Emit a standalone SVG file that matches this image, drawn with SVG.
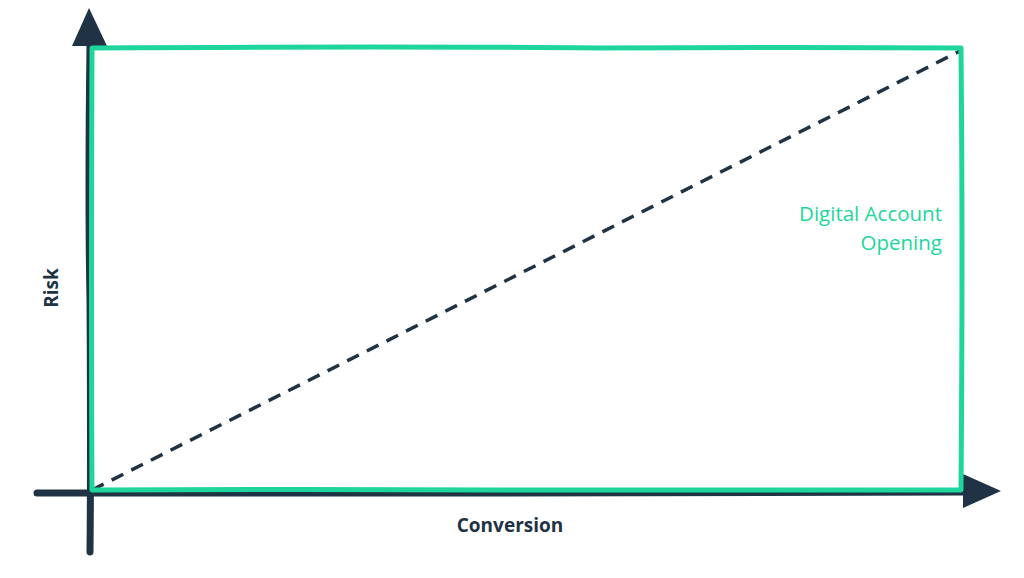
<svg xmlns="http://www.w3.org/2000/svg" width="1024" height="578" viewBox="0 0 1024 578">
<style>
.axis{stroke:#1f3344;stroke-width:7;stroke-linecap:round;fill:none}
.head{fill:#1f3344}
.box{stroke:#1ed69b;stroke-width:5;fill:none;stroke-linejoin:round}
.diag{stroke:#1f3344;stroke-width:3.5;stroke-dasharray:13 9;fill:none}
.lbl{font-family:"Open Sans","Liberation Sans",sans-serif;font-weight:bold;font-size:19px;fill:#1f3344}
.grn{font-family:"Open Sans","Liberation Sans",sans-serif;font-size:20.5px;fill:#1ed69b}
</style>
<rect width="1024" height="578" fill="#ffffff"/>
<g id="connectors">
<line class="diag" x1="92" y1="490" x2="960" y2="51"/>
</g>
<g id="y-axis">
<path class="axis" d="M90 44 Q88 200 90 300 Q91 450 90 552"/>
<polygon class="head" points="89,8 107,46 72,46"/>
</g>
<g id="x-axis">
<path class="axis" d="M37 493 Q300 494 500 493 Q750 492 965 492"/>
<polygon class="head" points="1001,491 963,474 963,508"/>
</g>
<g id="box">
<path class="box" d="M92 48 Q400 46 600 48 Q800 47 961 48 Q963 250 961 490 Q700 489 500 490 Q300 489 92 490 Q91 300 92 48 Z"/>
</g>
<g id="label-dao">
<text class="grn" x="942" y="221" text-anchor="end">Digital Account</text>
<text class="grn" x="942" y="250" text-anchor="end">Opening</text>
</g>
<g id="label-risk">
<text class="lbl" x="0" y="0" text-anchor="middle" transform="translate(58,288) rotate(-90)">Risk</text>
</g>
<g id="label-conversion">
<text class="lbl" x="510" y="532" text-anchor="middle">Conversion</text>
</g>
</svg>
